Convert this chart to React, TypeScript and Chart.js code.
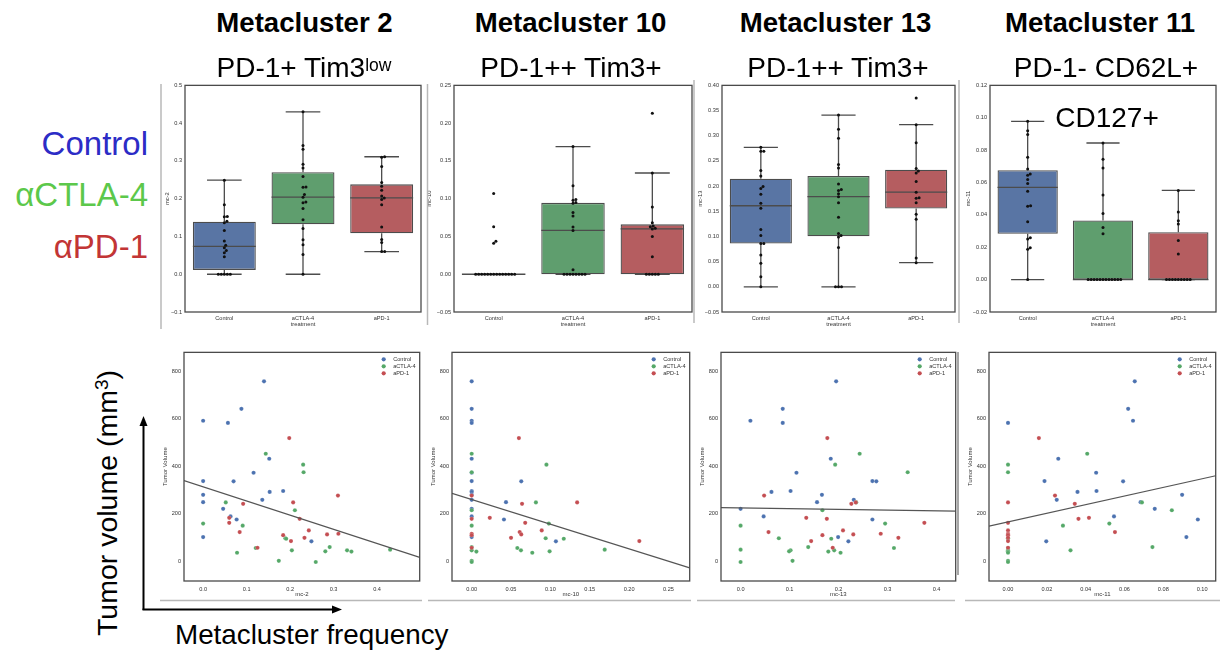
import React, { useEffect, useRef } from 'react';
import { Chart, registerables } from 'chart.js';

Chart.register(...registerables);

const FONT = "'Liberation Sans', Arial, Helvetica, sans-serif";
Chart.defaults.font.family = FONT;
Chart.defaults.color = '#333';

// ---------------- data ----------------
const groups = ['Control', 'aCTLA-4', 'aPD-1'];

const controlVolume = [758, 642, 592, 583, 432, 373, 338, 337, 296, 292, 280, 259, 249, 221, 189, 176, 102, 84];
const controlMc2 = [0.140, 0.088, 0.0, 0.057, 0.152, 0.116, 0.0, 0.070, 0.184, 0.153, 0.0, 0.136, 0.0, 0.046, 0.063, 0.077, 0.0, 0.249];
const controlMc10 = [0, 0, 0, 0, 0, 0, 0, 0.063, 0, 0, 0, 0, 0.0436, 0, 0, 0.041, 0, 0.107];
const controlMc13 = [0.195, 0.086, 0.020, 0.086, 0.184, 0.114, 0.269, 0.277, 0.102, 0.063, 0.166, 0.231, 0.156, 0.0, 0.047, 0.269, 0.199, 0.220];
const controlMc11 = [0.0653, 0.0619, 0.0644, 0.0, 0.0259, 0.0454, 0.0188, 0.0593, 0.0456, 0.0358, 0.0897, 0.0251, 0.0683, 0.0756, 0.0546, 0.0978, 0.0919, 0.0197];

const ctla4Volume = [453, 407, 375, 248, 215, 159, 150, 97, 95, 60, 56, 49, 46, 46, 42, 41, 36, 2, -3];
const ctla4Mc2 = [0.144, 0.230, 0.231, 0.052, 0.211, 0.0, 0.091, 0.189, 0.191, 0.291, 0.121, 0.430, 0.204, 0.331, 0.281, 0.341, 0.078, 0.174, 0.259];
const ctla4Mc10 = [0, 0.095, 0, 0.0816, 0, 0.098, 0, 0.094, 0.117, 0, 0.058, 0.169, 0.0626, 0, 0.099, 0.006, 0.077, 0, 0];
const ctla4Mc13 = [0.243, 0.193, 0.341, 0.236, 0.167, 0.295, 0.0, 0.078, 0.185, 0.138, 0.313, 0.0, 0.191, 0.102, 0.099, 0.179, 0.204, 0.106, 0.0];
const ctla4Mc11 = [0.0408, 0, 0, 0.069, 0.0844, 0.0522, 0.0283, 0, 0, 0.0744, 0, 0, 0.0322, 0, 0, 0, 0, 0, 0];

const pd1Volume = [519, 277, 248, 242, 183, 179, 162, 130, 123, 116, 113, 110, 99, 85, 57];
const pd1Mc2 = [0.198, 0.310, 0.207, 0.092, 0.060, 0.222, 0.060, 0.243, 0.084, 0.311, 0.285, 0.184, 0.233, 0.202, 0.125];
const pd1Mc10 = [0.060, 0, 0.134, 0.064, 0.023, 0, 0.068, 0.089, 0.061, 0, 0.063, 0, 0.050, 0.213, 0];
const pd1Mc13 = [0.177, 0.048, 0.235, 0.226, 0.134, 0.176, 0.375, 0.209, 0.057, 0.286, 0.230, 0.167, 0.322, 0.144, 0.188];
const pd1Mc11 = [0.0159, 0.0242, 0, 0.0344, 0.0417, 0.0363, 0, 0, 0.0551, 0, 0, 0, 0, 0, 0];

const volumes = [controlVolume, ctla4Volume, pd1Volume];

// tick values
const volumeTickValues = [0, 200, 400, 600, 800];
const mc2BoxTicks = [-0.1, 0.0, 0.1, 0.2, 0.3, 0.4, 0.5];
const mc10BoxTicks = [-0.05, 0.0, 0.05, 0.10, 0.15, 0.20, 0.25];
const mc13BoxTicks = [-0.05, 0.0, 0.05, 0.10, 0.15, 0.20, 0.25, 0.30, 0.35, 0.40];
const mc11BoxTicks = [-0.02, 0.0, 0.02, 0.04, 0.06, 0.08, 0.10, 0.12];
const mc2FreqTicks = [0.0, 0.1, 0.2, 0.3, 0.4];
const mc10FreqTicks = [0.0, 0.05, 0.10, 0.15, 0.20, 0.25];
const mc13FreqTicks = [0.0, 0.1, 0.2, 0.3, 0.4];
const mc11FreqTicks = [0.0, 0.02, 0.04, 0.06, 0.08, 0.10];

const metaclusterTitles = ['Metacluster 2', 'Metacluster 10', 'Metacluster 13', 'Metacluster 11'];

// ---------------- styles / layout ----------------
const SCATTER_COLORS = ['#4C72B0', '#55A868', '#C44E52'];
const BOX_COLORS = ['#5975A4', '#5F9E6E', '#B55D60'];
const LINE_GRAY = '#4c4c4c';
const SWARM_DIAM = 3.0;

type Rect = { l: number; t: number; r: number; b: number; yw: number; pr: number; pt: number; xh: number };
type Axis = { min: number; max: number; ticks: number[]; dec: number };
type Panel = { name: string; values: number[][]; boxY: Axis; scatX: Axis; box: Rect; scat: Rect };

const VOLUME_AXIS: Axis = { min: -83, max: 880, ticks: volumeTickValues, dec: 0 };

const PANELS: Panel[] = [
  {
    name: 'mc-2', values: [controlMc2, ctla4Mc2, pd1Mc2],
    boxY: { min: -0.1, max: 0.5, ticks: mc2BoxTicks, dec: 1 },
    scatX: { min: -0.044, max: 0.498, ticks: mc2FreqTicks, dec: 1 },
    box: { l: 185, t: 85, r: 421, b: 312, yw: 23, pr: 4, pt: 6, xh: 16 },
    scat: { l: 184, t: 352, r: 420, b: 581, yw: 24, pr: 4, pt: 6, xh: 17 },
  },
  {
    name: 'mc-10', values: [controlMc10, ctla4Mc10, pd1Mc10],
    boxY: { min: -0.05, max: 0.25, ticks: mc10BoxTicks, dec: 2 },
    scatX: { min: -0.025, max: 0.277, ticks: mc10FreqTicks, dec: 2 },
    box: { l: 454, t: 85, r: 692, b: 312, yw: 30, pr: 4, pt: 6, xh: 16 },
    scat: { l: 452, t: 352, r: 690, b: 581, yw: 24, pr: 4, pt: 6, xh: 17 },
  },
  {
    name: 'mc-13', values: [controlMc13, ctla4Mc13, pd1Mc13],
    boxY: { min: -0.05, max: 0.40, ticks: mc13BoxTicks, dec: 2 },
    scatX: { min: -0.040, max: 0.439, ticks: mc13FreqTicks, dec: 1 },
    box: { l: 722, t: 85, r: 955, b: 312, yw: 27, pr: 4, pt: 6, xh: 16 },
    scat: { l: 721, t: 352, r: 956, b: 581, yw: 24, pr: 4, pt: 6, xh: 17 },
  },
  {
    name: 'mc-11', values: [controlMc11, ctla4Mc11, pd1Mc11],
    boxY: { min: -0.02, max: 0.12, ticks: mc11BoxTicks, dec: 2 },
    scatX: { min: -0.0098, max: 0.107, ticks: mc11FreqTicks, dec: 2 },
    box: { l: 990, t: 85, r: 1219, b: 312, yw: 27, pr: 1, pt: 6, xh: 16 },
    scat: { l: 989, t: 352, r: 1219, b: 581, yw: 24, pr: 1, pt: 6, xh: 17 },
  },
];

// ---------------- helpers ----------------
const fmt = (dec: number) => (v: any) => {
  let n = Number(v);
  if (Math.abs(n) < 1e-9) n = 0;
  const s = n.toFixed(dec);
  return s.startsWith('-') ? '\u2212' + s.slice(1) : s;
};

const fixedTicks = (vals: number[]) => (axis: any) => {
  axis.ticks = vals.map((v) => ({ value: v }));
};

function quantile(sorted: number[], q: number) {
  const pos = (sorted.length - 1) * q;
  const lo = Math.floor(pos);
  const hi = Math.ceil(pos);
  return sorted[lo] + (sorted[hi] - sorted[lo]) * (pos - lo);
}

function boxStats(vals: number[]) {
  const s = [...vals].sort((a, b) => a - b);
  const q1 = quantile(s, 0.25);
  const med = quantile(s, 0.5);
  const q3 = quantile(s, 0.75);
  const iqr = q3 - q1;
  const lo = Math.min(...s.filter((v) => v >= q1 - 1.5 * iqr - 1e-12));
  const hi = Math.max(...s.filter((v) => v <= q3 + 1.5 * iqr + 1e-12));
  return { q1, med, q3, lo, hi };
}

// swarm layout (pixel offsets), like seaborn's swarmplot
function beeswarm(vals: number[], pxPerUnit: number, d: number) {
  const order = vals.map((_, i) => i).sort((a, b) => vals[a] - vals[b]);
  const placed: { x: number; y: number }[] = [];
  const out = new Array(vals.length).fill(0);
  for (const i of order) {
    const y = vals[i] * pxPerUnit;
    const nb = placed.filter((p) => Math.abs(p.y - y) < d);
    const cands = [0];
    for (const p of nb) {
      const dx = Math.sqrt(Math.max(d * d - (p.y - y) * (p.y - y), 0));
      cands.push(p.x + dx, p.x - dx);
    }
    cands.sort((a, b) => Math.abs(a) - Math.abs(b));
    let chosen = 0;
    for (const c of cands) {
      if (nb.every((p) => (p.x - c) * (p.x - c) + (p.y - y) * (p.y - y) >= d * d - 1e-6)) {
        chosen = c;
        break;
      }
    }
    placed.push({ x: chosen, y });
    out[i] = chosen;
  }
  return out;
}

function linreg(xs: number[], ys: number[]) {
  const n = xs.length;
  const mx = xs.reduce((a, b) => a + b, 0) / n;
  const my = ys.reduce((a, b) => a + b, 0) / n;
  let sxy = 0;
  let sxx = 0;
  for (let i = 0; i < n; i++) {
    sxy += (xs[i] - mx) * (ys[i] - my);
    sxx += (xs[i] - mx) * (xs[i] - mx);
  }
  const b = sxy / sxx;
  return { a: my - b * mx, b };
}

const framePlugin = {
  id: 'frame',
  afterDatasetsDraw(chart: any) {
    const { ctx, chartArea } = chart;
    const { left, top, right, bottom } = chartArea;
    ctx.save();
    ctx.strokeStyle = '#4a4a4a';
    ctx.lineWidth = 1.3;
    ctx.strokeRect(left, top, right - left, bottom - top);
    ctx.restore();
  },
};

const tickFont = { size: 5.6, family: FONT };
const titleFont = { size: 5.8, family: FONT };

function baseOptions(r: Rect) {
  return {
    responsive: false,
    animation: false as const,
    devicePixelRatio: 1,
    events: [] as any[],
    layout: { padding: { top: r.pt, right: r.pr, left: 0, bottom: 0 } },
    plugins: { legend: { display: false }, tooltip: { enabled: false } },
  };
}

function boxConfig(p: Panel) {
  const r = p.box;
  const stats = p.values.map(boxStats);
  const catW = (r.r - r.l) / 3;
  const pxPerUnit = (r.b - r.t) / (p.boxY.max - p.boxY.min);
  const pts: { x: number; y: number }[] = [];
  p.values.forEach((vals, g) => {
    const offs = beeswarm(vals, pxPerUnit, SWARM_DIAM);
    vals.forEach((v, i) => pts.push({ x: g + offs[i] / catW, y: v }));
  });

  const boxParts = {
    id: 'boxParts',
    beforeDatasetsDraw(chart: any) {
      const { ctx } = chart;
      const y = chart.scales.y;
      const meta = chart.getDatasetMeta(1);
      ctx.save();
      ctx.strokeStyle = LINE_GRAY;
      ctx.lineWidth = 1.3;
      stats.forEach((s, i) => {
        const bar: any = meta.data[i];
        const cx = bar.x;
        const cw = bar.width * 0.55;
        const yl = y.getPixelForValue(s.lo);
        const yh = y.getPixelForValue(s.hi);
        const y1 = y.getPixelForValue(s.q1);
        const y3 = y.getPixelForValue(s.q3);
        ctx.beginPath();
        ctx.moveTo(cx, y1);
        ctx.lineTo(cx, yl);
        ctx.moveTo(cx, y3);
        ctx.lineTo(cx, yh);
        ctx.moveTo(cx - cw / 2, yl);
        ctx.lineTo(cx + cw / 2, yl);
        ctx.moveTo(cx - cw / 2, yh);
        ctx.lineTo(cx + cw / 2, yh);
        ctx.stroke();
      });
      ctx.restore();
    },
    afterDatasetDraw(chart: any, args: any) {
      if (args.index !== 1) return;
      const { ctx } = chart;
      const y = chart.scales.y;
      const meta = chart.getDatasetMeta(1);
      ctx.save();
      ctx.strokeStyle = LINE_GRAY;
      ctx.lineWidth = 1.3;
      stats.forEach((s, i) => {
        const bar: any = meta.data[i];
        const ym = y.getPixelForValue(s.med);
        ctx.beginPath();
        ctx.moveTo(bar.x - bar.width / 2, ym);
        ctx.lineTo(bar.x + bar.width / 2, ym);
        ctx.stroke();
      });
      ctx.restore();
    },
  };

  return {
    type: 'bar',
    data: {
      datasets: [
        {
          type: 'scatter',
          data: pts,
          backgroundColor: '#111',
          borderWidth: 0,
          pointRadius: 1.5,
        },
        {
          type: 'bar',
          data: stats.map((s, g) => ({ x: g, y: [s.q1, s.q3] })),
          backgroundColor: BOX_COLORS,
          borderColor: LINE_GRAY,
          borderWidth: 1.3,
          borderSkipped: false,
          grouped: false,
          categoryPercentage: 0.8,
          barPercentage: 1,
        },
      ],
    },
    options: {
      ...baseOptions(r),
      scales: {
        x: {
          type: 'linear',
          offset: false,
          min: -0.5,
          max: 2.5,
          afterBuildTicks: fixedTicks([0, 1, 2]),
          grid: { display: false, drawTicks: false, offset: false },
          border: { display: false },
          ticks: { padding: 3, font: tickFont, color: '#333', autoSkip: false, maxRotation: 0, callback: (v: any) => groups[Math.round(Number(v))] },
          title: { display: true, text: 'treatment', font: titleFont, padding: 0, color: '#333' },
          afterFit: (s: any) => { s.height = r.xh; },
        },
        y: {
          type: 'linear',
          min: p.boxY.min,
          max: p.boxY.max,
          afterBuildTicks: fixedTicks(p.boxY.ticks),
          grid: { display: false, drawTicks: false },
          border: { display: false },
          ticks: { padding: 3, font: tickFont, color: '#333', callback: fmt(p.boxY.dec), autoSkip: false },
          title: { display: true, text: p.name, font: titleFont, padding: { top: 2, bottom: 0 }, color: '#333' },
          afterFit: (s: any) => { s.width = r.yw; },
        },
      },
    },
    plugins: [boxParts, framePlugin],
  };
}

function scatterConfig(p: Panel) {
  const r = p.scat;
  const xs = p.values.flat();
  const ys = volumes.flat();
  const { a, b } = linreg(xs, ys);
  const groupDs = p.values.map((vals, g) => ({
    type: 'scatter',
    label: groups[g],
    data: vals.map((v, i) => ({ x: v, y: volumes[g][i] })),
    backgroundColor: SCATTER_COLORS[g],
    borderColor: 'rgba(255,255,255,0.6)',
    borderWidth: 0.3,
    pointRadius: 2.1,
  }));
  const lineDs = {
    type: 'scatter',
    data: [
      { x: p.scatX.min, y: a + b * p.scatX.min },
      { x: p.scatX.max, y: a + b * p.scatX.max },
    ],
    showLine: true,
    borderColor: '#555',
    borderWidth: 1.2,
    pointRadius: 0,
    backgroundColor: '#555',
  };

  const legendPlugin = {
    id: 'innerLegend',
    afterDraw(chart: any) {
      const { ctx, chartArea } = chart;
      const mx = chartArea.right - 36;
      ctx.save();
      ctx.font = `5.6px ${FONT}`;
      ctx.textBaseline = 'middle';
      ctx.textAlign = 'left';
      groups.forEach((g, i) => {
        const yy = chartArea.top + 7 + i * 7;
        ctx.fillStyle = SCATTER_COLORS[i];
        ctx.beginPath();
        ctx.arc(mx, yy, 2.1, 0, Math.PI * 2);
        ctx.fill();
        ctx.fillStyle = '#333';
        ctx.fillText(g, mx + 9.5, yy + 0.3);
      });
      ctx.restore();
    },
  };

  return {
    type: 'scatter',
    data: { datasets: [lineDs, groupDs[2], groupDs[1], groupDs[0]] },
    options: {
      ...baseOptions(r),
      scales: {
        x: {
          type: 'linear',
          min: p.scatX.min,
          max: p.scatX.max,
          afterBuildTicks: fixedTicks(p.scatX.ticks),
          grid: { display: false, drawTicks: false },
          border: { display: false },
          ticks: { padding: 5, font: tickFont, color: '#333', callback: fmt(p.scatX.dec), autoSkip: false, maxRotation: 0 },
          title: { display: true, text: p.name, font: { size: 6, family: FONT }, padding: 0, color: '#333' },
          afterFit: (s: any) => { s.height = r.xh; },
        },
        y: {
          type: 'linear',
          min: VOLUME_AXIS.min,
          max: VOLUME_AXIS.max,
          afterBuildTicks: fixedTicks(VOLUME_AXIS.ticks),
          grid: { display: false, drawTicks: false },
          border: { display: false },
          ticks: { padding: 3, font: tickFont, color: '#333', callback: fmt(0), autoSkip: false },
          title: { display: true, text: 'Tumor Volume', font: { size: 6, family: FONT }, padding: { top: 2, bottom: 0 }, color: '#333' },
          afterFit: (s: any) => { s.width = r.yw; },
        },
      },
    },
    plugins: [legendPlugin, framePlugin],
  };
}

function ChartCanvas({ rect, build }: { rect: Rect; build: () => any }) {
  const ref = useRef<HTMLCanvasElement | null>(null);
  const width = rect.yw + (rect.r - rect.l) + rect.pr;
  const height = rect.pt + (rect.b - rect.t) + rect.xh;
  useEffect(() => {
    const chart = new Chart(ref.current as HTMLCanvasElement, build());
    return () => chart.destroy();
  }, []);
  return (
    <canvas
      ref={ref}
      width={width}
      height={height}
      style={{ position: 'absolute', left: rect.l - rect.yw, top: rect.t - rect.pt, width, height }}
    />
  );
}

function Txt({ x, base, size, align = 'center', weight = 400, color = '#000', children }: any) {
  const top = base - 0.8465 * size;
  const w = 420;
  const left = align === 'center' ? x - w / 2 : align === 'right' ? x - w : x;
  return (
    <div
      style={{
        position: 'absolute', left, top, width: w, textAlign: align, fontSize: size, lineHeight: `${size}px`,
        fontWeight: weight, color, whiteSpace: 'nowrap', fontFamily: FONT,
      }}
    >
      {children}
    </div>
  );
}

const titleCenters = [304.5, 570.5, 835.5, 1100];
const subCenters = [304, 571, 838, 1106];

const vDividers = [
  { x: 161, y1: 84, y2: 329, c: '#b8b8b8' },
  { x: 427.5, y1: 84, y2: 325, c: '#b8b8b8' },
  { x: 694, y1: 80, y2: 323, c: '#b8b8b8' },
  { x: 959, y1: 80, y2: 323, c: '#b8b8b8' },
  { x: 958, y1: 352, y2: 575, c: '#8a8a8a' },
];
const hDividers = [
  { y: 600.5, x1: 160, x2: 422 },
  { y: 600.5, x1: 428, x2: 691 },
  { y: 600.5, x1: 697, x2: 955 },
  { y: 600.5, x1: 965, x2: 1220 },
];

export default function App() {
  return (
    <div style={{ position: 'absolute', left: 0, top: 0, width: 1220, height: 652, background: '#fff', overflow: 'hidden', fontFamily: FONT }}>
      {PANELS.map((p) => (
        <ChartCanvas key={'b' + p.name} rect={p.box} build={() => boxConfig(p)} />
      ))}
      {PANELS.map((p) => (
        <ChartCanvas key={'s' + p.name} rect={p.scat} build={() => scatterConfig(p)} />
      ))}

      {metaclusterTitles.map((t, i) => (
        <Txt key={t} x={titleCenters[i]} base={32} size={27.6} weight={700}>{t}</Txt>
      ))}
      <Txt x={subCenters[0]} base={77.5} size={28}>
        PD-1+ Tim3<span style={{ fontSize: 17.5, position: 'relative', top: -6 }}>low</span>
      </Txt>
      <Txt x={subCenters[1]} base={77.5} size={28}>PD-1++ Tim3+</Txt>
      <Txt x={subCenters[2]} base={77.5} size={28}>PD-1++ Tim3+</Txt>
      <Txt x={subCenters[3]} base={77.5} size={28}>PD-1- CD62L+</Txt>
      <Txt x={1107} base={127.5} size={28}>CD127+</Txt>

      <Txt x={148} base={155} size={33} align="right" color="#2C2CC6">Control</Txt>
      <Txt x={148} base={206} size={33} align="right" color="#5CC84B">αCTLA-4</Txt>
      <Txt x={148} base={258} size={33} align="right" color="#C23535">αPD-1</Txt>

      <div
        style={{
          position: 'absolute', left: 106.6 - 160, top: 502.5 - 14, width: 320, height: 28, lineHeight: '28px',
          fontSize: 28.5, textAlign: 'center', transform: 'rotate(-90deg)', transformOrigin: '50% 50%', whiteSpace: 'nowrap', color: '#000',
        }}
      >
        Tumor volume (mm<span style={{ fontSize: 19, position: 'relative', top: -9 }}>3</span>)
      </div>
      <Txt x={175} base={644.5} size={27.8} align="left">Metacluster frequency</Txt>

      <svg width={1220} height={652} style={{ position: 'absolute', left: 0, top: 0, pointerEvents: 'none' }}>
        {vDividers.map((d, i) => (
          <line key={'v' + i} x1={d.x} y1={d.y1} x2={d.x} y2={d.y2} stroke={d.c} strokeWidth={1.5} />
        ))}
        {hDividers.map((d, i) => (
          <line key={'h' + i} x1={d.x1} y1={d.y} x2={d.x2} y2={d.y} stroke="#b8b8b8" strokeWidth={1.5} />
        ))}
        <line x1={143.5} y1={610} x2={143.5} y2={424} stroke="#000" strokeWidth={2} />
        <polygon points="143.5,416 139.5,426 147.5,426" fill="#000" />
        <line x1={142.5} y1={609.5} x2={334} y2={609.5} stroke="#000" strokeWidth={2} />
        <polygon points="342,609.5 332,605.5 332,613.5" fill="#000" />
      </svg>
    </div>
  );
}
